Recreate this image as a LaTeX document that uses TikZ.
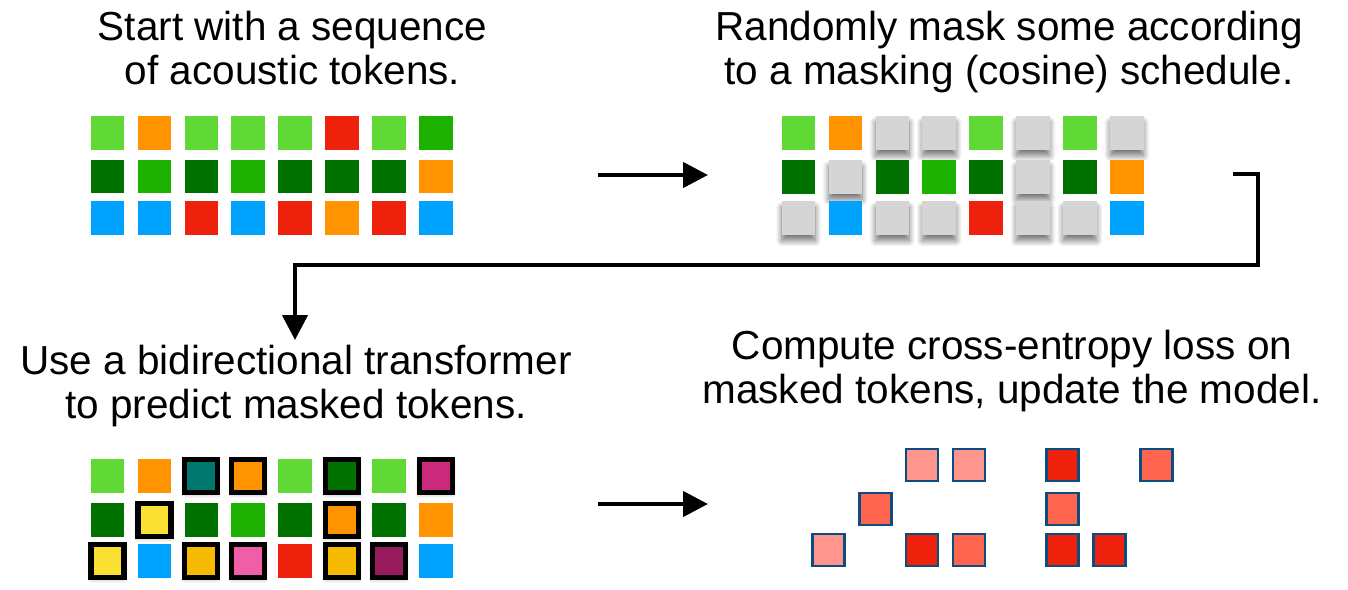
\documentclass[tikz,border=0pt]{standalone}
\usepackage{fontspec}
\setmainfont{Liberation Sans}
\usetikzlibrary{arrows.meta,shadows.blur}
\definecolor{lg}{HTML}{60D836}
\definecolor{gr}{HTML}{1DB100}
\definecolor{dg}{HTML}{017100}
\definecolor{or}{HTML}{FF9300}
\definecolor{rd}{HTML}{EE220C}
\definecolor{bl}{HTML}{00A2FF}
\definecolor{gy}{HTML}{D5D5D5}
\definecolor{te}{HTML}{00776F}
\definecolor{ye}{HTML}{F9E032}
\definecolor{am}{HTML}{F6BA00}
\definecolor{pk}{HTML}{EF5FA7}
\definecolor{mg}{HTML}{CB297B}
\definecolor{pl}{HTML}{961A5C}
\definecolor{lp}{HTML}{FF968E}
\definecolor{sa}{HTML}{FF644E}
\definecolor{ob}{HTML}{0A4D80}
\begin{document}
\begin{tikzpicture}[x=1pt,y=-1pt,
  tok/.style={minimum size=33.5pt,inner sep=0pt,outer sep=0pt,fill=#1},
  msk/.style={tok=gy,blur shadow={shadow xshift=0pt,shadow yshift=-6pt,shadow blur radius=6pt,shadow opacity=55,shadow blur steps=12}},
  pred/.style={minimum size=33pt,inner sep=0pt,outer sep=0pt,fill=#1,draw=black,line width=5.3pt,
    blur shadow={shadow xshift=0pt,shadow yshift=-2pt,shadow blur radius=4pt,shadow opacity=30,shadow blur steps=8}},
  loss/.style={minimum size=32pt,inner sep=0pt,outer sep=0pt,fill=#1,draw=ob,line width=2.7pt},
  lbl/.style={font=\fontsize{40.5}{44}\selectfont,inner sep=0pt,anchor=base},
  arr/.style={line width=4.5pt,line join=miter,-{Triangle[length=25pt,width=25pt]}}]
\useasboundingbox (0,0) rectangle (1348,589);

% ---------- texts ----------
\node[lbl] (t1a) at (292.5,40) {Start with a sequence};
\node[lbl] (t1b) at (292.5,84) {of acoustic tokens.};
\node[lbl] (t2a) at (1009,40) {Randomly mask some according};
\node[lbl] (t2b) at (1009,84) {to a masking (cosine) schedule.};
\node[lbl] (t3a) at (296,374) {Use a bidirectional transformer};
\node[lbl] (t3b) at (296,418) {to predict masked tokens.};
\node[lbl] (t4a) at (1012,359) {Compute cross-entropy loss on};
\node[lbl] (t4b) at (1012,403) {masked tokens, update the model.};

% ---------- top-left grid ----------
\foreach \c [count=\i from 0] in {lg,or,lg,lg,lg,rd,lg,gr}
  \node[tok=\c] (tl-1-\i) at ({107.5+46.9*\i},133) {};
\foreach \c [count=\i from 0] in {dg,gr,dg,gr,dg,dg,dg,or}
  \node[tok=\c] (tl-2-\i) at ({107.5+46.9*\i},176.5) {};
\foreach \c [count=\i from 0] in {bl,bl,rd,bl,rd,or,rd,bl}
  \node[tok=\c] (tl-3-\i) at ({107.5+46.9*\i},218) {};

% ---------- top-right grid (masked) ----------
\foreach \r/\y/\row in {1/133/{lg/0,or/0,gy/1,gy/1,lg/0,gy/1,lg/0,gy/1},
                         2/177/{dg/0,gy/1,dg/0,gr/0,dg/0,gy/1,dg/0,or/0},
                         3/218/{gy/1,bl/0,gy/1,gy/1,rd/0,gy/1,gy/1,bl/0}}{
  \foreach \c/\k [count=\i from 0] in \row {
    \ifnum\k=1
      \node[msk] (tr-\r-\i) at ({798.5+46.9*\i},\y) {};
    \else
      \node[tok=\c] (tr-\r-\i) at ({798.5+46.9*\i},\y) {};
    \fi
  }
}

% ---------- bottom-left grid (predicted) ----------
\foreach \r/\y/\row in {1/476/{lg/0,or/0,te/1,or/1,lg/0,dg/1,lg/0,mg/1},
                         2/520/{dg/0,ye/1,dg/0,gr/0,dg/0,or/1,dg/0,or/0},
                         3/561/{ye/1,bl/0,am/1,pk/1,rd/0,am/1,pl/1,bl/0}}{
  \foreach \c/\k [count=\i from 0] in \row {
    \ifnum\k=1
      \node[pred=\c] (bl-\r-\i) at ({107.5+46.9*\i},\y) {};
    \else
      \node[tok=\c] (bl-\r-\i) at ({107.5+46.9*\i},\y) {};
    \fi
  }
}

% ---------- bottom-right grid (loss) ----------
\foreach \i/\c in {2/lp,3/lp,5/rd,7/sa}
  \node[loss=\c] (br-1-\i) at ({828.3+46.9*\i},465) {};
\foreach \i/\c in {1/sa,5/sa}
  \node[loss=\c] (br-2-\i) at ({828.3+46.9*\i},509) {};
\foreach \i/\c in {0/lp,2/rd,3/sa,5/rd,6/rd}
  \node[loss=\c] (br-3-\i) at ({828.3+46.9*\i},550) {};

% ---------- connectors ----------
\coordinate (a1s) at (598,175);
\coordinate (a1e) at (708,175);
\coordinate (a2s) at (598,504);
\coordinate (a2e) at (708,504);
\coordinate (e1s) at (1233,174);
\coordinate (e1c) at (1258,265);
\coordinate (e1e) at (295,340);
\draw[arr] (a1s) -- (a1e);
\draw[arr] (a2s) -- (a2e);
\draw[arr] (e1s) -| (e1c) -| (e1e);
\end{tikzpicture}
\end{document}
